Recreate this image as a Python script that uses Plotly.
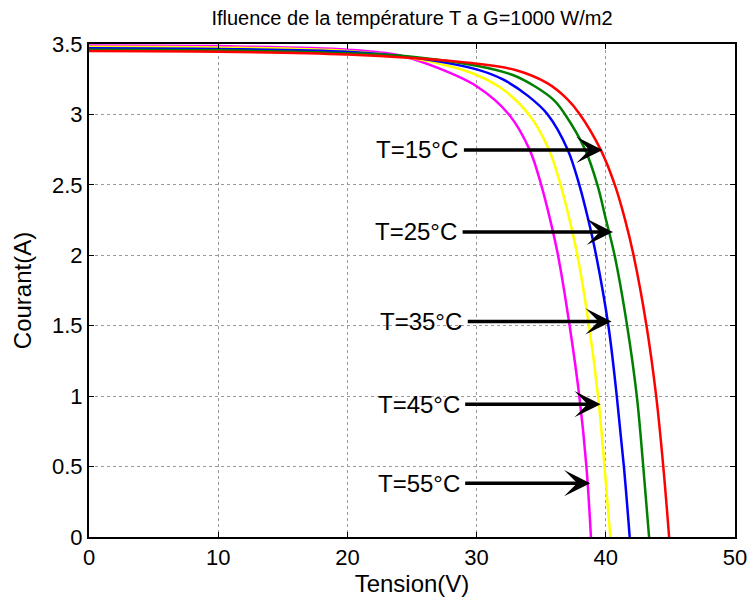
import plotly.graph_objects as go

# ---- data ----
labels = ["T=55°C", "T=45°C", "T=35°C", "T=25°C", "T=15°C"]
colors = ["#FF00FF", "#FFFF00", "#0000FF", "#008000", "#FF0000"]

v_55 = [0, 10, 20, 24, 27, 30, 32.5, 34.1, 35.0, 35.7, 36.3, 37.2, 37.95, 38.5, 38.85]
i_55 = [3.49, 3.485, 3.46, 3.42, 3.33, 3.20, 3.0, 2.75, 2.5, 2.25, 2.0, 1.5, 1.0, 0.5, 0]

v_45 = [0, 10, 20, 25, 28, 30, 32, 34.05, 35.6, 36.5, 37.2, 37.8, 38.7, 39.4, 39.9, 40.35]
i_45 = [3.48, 3.475, 3.45, 3.40, 3.34, 3.28, 3.18, 3.0, 2.75, 2.5, 2.25, 2.0, 1.5, 1.0, 0.5, 0]

v_35 = [0, 10, 20, 25, 30, 32, 34, 35.5, 37.05, 37.95, 38.65, 39.25, 40.2, 40.85, 41.4, 41.85]
i_35 = [3.47, 3.465, 3.445, 3.405, 3.32, 3.25, 3.13, 3.0, 2.75, 2.5, 2.25, 2.0, 1.5, 1.0, 0.5, 0]

v_25 = [0, 10, 20, 25, 30, 32.8, 34.5, 36.0, 36.85, 38.4, 39.35, 40.02, 40.68, 41.65, 42.4, 42.9, 43.35]
i_25 = [3.46, 3.455, 3.435, 3.41, 3.345, 3.28, 3.20, 3.10, 3.0, 2.75, 2.5, 2.25, 2.0, 1.5, 1.0, 0.5, 0]

v_15 = [0, 10, 20, 25, 30, 33, 35.5, 37, 38.0, 39.6, 40.7, 41.5, 42.15, 43.15, 43.9, 44.45, 44.9]
i_15 = [3.45, 3.445, 3.425, 3.40, 3.36, 3.315, 3.22, 3.11, 3.0, 2.75, 2.5, 2.25, 2.0, 1.5, 1.0, 0.5, 0]

volts = [v_55, v_45, v_35, v_25, v_15]
amps = [i_55, i_45, i_35, i_25, i_15]

# annotation arrows (top to bottom)
ann_text = ["T=15°C", "T=25°C", "T=35°C", "T=45°C", "T=55°C"]
ann_head_v = [39.75, 40.55, 40.45, 39.6, 38.8]
ann_i = [2.748, 2.166, 1.53, 0.943, 0.382]
ann_tail_v = [28.9, 28.8, 29.2, 29.0, 29.0]

x_ticks = [0, 10, 20, 30, 40, 50]
y_ticks = [0, 0.5, 1, 1.5, 2, 2.5, 3, 3.5]
y_tick_text = ["0", "0.5", "1", "1.5", "2", "2.5", "3", "3.5"]

FONT = "Arial, Liberation Sans, sans-serif"

fig = go.Figure()
for v, i, c, lab in zip(volts, amps, colors, labels):
    fig.add_trace(go.Scatter(x=v, y=i, mode="lines", name=lab,
                             line=dict(color=c, width=2.5, shape="spline", smoothing=1.0),
                             showlegend=False, hoverinfo="skip"))

annotations = []
for t, hv, iy, tv in zip(ann_text, ann_head_v, ann_i, ann_tail_v):
    annotations.append(dict(x=hv, y=iy, ax=tv, ay=iy, xref="x", yref="y",
                            axref="x", ayref="y", text="", showarrow=True,
                            arrowhead=3, arrowsize=1.25, arrowwidth=3.5,
                            arrowcolor="black"))
    annotations.append(dict(x=tv, y=iy, xref="x", yref="y", text=t,
                            showarrow=False, xanchor="right", yanchor="middle",
                            xshift=-2, font=dict(family=FONT, size=24, color="black")))

axis_common = dict(showline=True, linecolor="black", linewidth=2, mirror="ticks",
                   ticks="inside", ticklen=5, tickcolor="black", tickwidth=1,
                   showgrid=True, gridcolor="#9a9a9a", gridwidth=1, griddash="dot",
                   zeroline=False, automargin=False, ticklabeloverflow="allow",
                   tickfont=dict(family=FONT, size=22, color="black"))

fig.update_layout(
    width=747, height=601,
    margin=dict(l=89, r=12, t=44, b=64),
    paper_bgcolor="white", plot_bgcolor="white",
    title=dict(text="Ifluence de la température T a G=1000 W/m2",
               x=0.5, xref="paper", y=1 - 18 / 601, yref="container",
               xanchor="center", yanchor="middle",
               font=dict(family=FONT, size=20, color="black")),
    xaxis=dict(range=[0, 50], tickvals=x_ticks,
               title=dict(text="Tension(V)", standoff=4,
                          font=dict(family=FONT, size=24, color="black")),
               **axis_common),
    yaxis=dict(range=[0, 3.5], tickvals=y_ticks, ticktext=y_tick_text,
               title=dict(text="Courant(A)", standoff=14,
                          font=dict(family=FONT, size=24, color="black")),
               **axis_common),
    annotations=annotations,
)

fig.write_html("out.html")
